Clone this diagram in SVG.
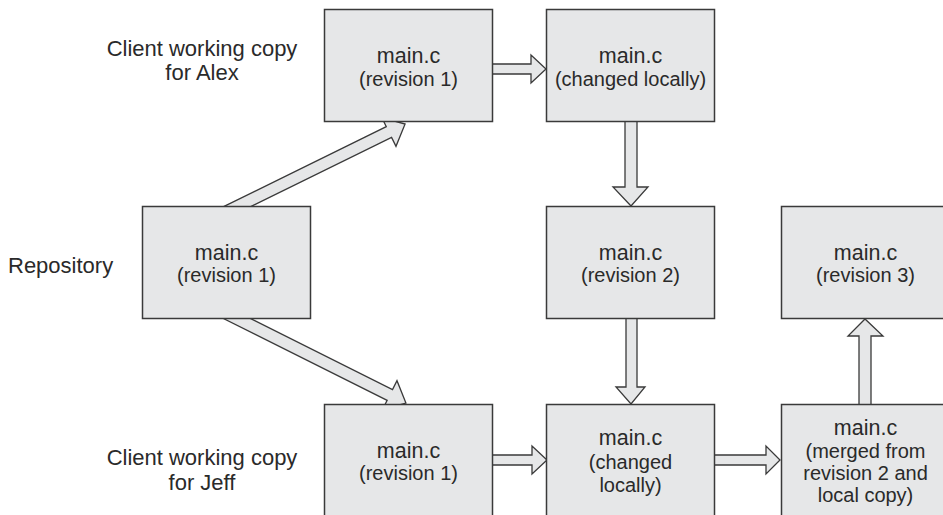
<svg xmlns="http://www.w3.org/2000/svg" width="943" height="515" viewBox="0 0 943 515">
  <style>
    .box { fill: #e6e7e8; stroke: #3a3a3a; stroke-width: 1.5; }
    .arrow { fill: #e6e7e8; stroke: #3a3a3a; stroke-width: 1.3; stroke-linejoin: miter; }
    text { font-family: "Liberation Sans", Arial, sans-serif; fill: #2a2a2a; }
    .lbl { font-size: 20px; text-anchor: middle; }
    .name { font-size: 21.5px; text-anchor: middle; }
    .side { font-size: 22px; text-anchor: middle; }
  </style>
  <rect width="943" height="515" fill="#ffffff"/>

  <!-- connectors: block arrows, drawn under the boxes so their tails tuck in -->
  <g id="connectors">
    <!-- repository to Alex -->
    <polygon class="arrow" transform="translate(220.6,214.8) rotate(-26.2)" points="0,-6 187.6,-6 187.6,-16 205.6,0 187.6,16 187.6,6 0,6"/>
    <!-- repository to Jeff -->
    <polygon class="arrow" transform="translate(218.1,309.1) rotate(26.57)" points="0,-6 192,-6 192,-16 210,0 192,16 192,6 0,6"/>
    <!-- Alex rev 1 to changed locally -->
    <polygon class="arrow" points="490,64 531,64 531,55 546,69 531,83 531,74 490,74"/>
    <!-- Alex changed locally to revision 2 -->
    <polygon class="arrow" points="625,118 637,118 637,187 648,187 631,206 613,187 625,187"/>
    <!-- revision 2 to Jeff changed locally -->
    <polygon class="arrow" points="626,315 637,315 637,387 645,387 631,404 616,387 626,387"/>
    <!-- Jeff rev 1 to changed locally -->
    <polygon class="arrow" points="490,455 532,455 532,446 547,460 532,474 532,465 490,465"/>
    <!-- Jeff changed locally to merged -->
    <polygon class="arrow" points="711,455 766,455 766,446 780,460 766,474 766,465 711,465"/>
    <!-- merged to revision 3 -->
    <polygon class="arrow" points="859,408 871,408 871,336 883,336 865,319 848,336 859,336"/>
  </g>

  <!-- row labels -->
  <g id="label-alex">
    <text class="side" x="202" y="56">Client working copy</text>
    <text class="side" x="202" y="80">for Alex</text>
  </g>
  <g id="label-repository">
    <text x="8" y="273" font-size="22">Repository</text>
  </g>
  <g id="label-jeff">
    <text class="side" x="202" y="465">Client working copy</text>
    <text class="side" x="202" y="490">for Jeff</text>
  </g>

  <!-- Alex working copy -->
  <g id="alex-rev1">
    <rect class="box" x="324.5" y="9.5" width="168" height="112"/>
    <text class="name" x="408.5" y="63">main.c</text>
    <text class="lbl" x="408.5" y="86">(revision 1)</text>
  </g>
  <g id="alex-changed">
    <rect class="box" x="546.5" y="9.5" width="168" height="112"/>
    <text class="name" x="630.5" y="63">main.c</text>
    <text class="lbl" x="630.5" y="86">(changed locally)</text>
  </g>

  <!-- Repository -->
  <g id="repo-rev1">
    <rect class="box" x="142.5" y="206.5" width="168" height="112"/>
    <text class="name" x="226.5" y="260">main.c</text>
    <text class="lbl" x="226.5" y="282">(revision 1)</text>
  </g>
  <g id="repo-rev2">
    <rect class="box" x="546.5" y="206.5" width="168" height="112"/>
    <text class="name" x="630.5" y="260">main.c</text>
    <text class="lbl" x="630.5" y="282">(revision 2)</text>
  </g>
  <g id="repo-rev3">
    <rect class="box" x="781.5" y="206.5" width="168" height="112"/>
    <text class="name" x="865.5" y="260">main.c</text>
    <text class="lbl" x="865.5" y="282">(revision 3)</text>
  </g>

  <!-- Jeff working copy -->
  <g id="jeff-rev1">
    <rect class="box" x="324.5" y="404.5" width="168" height="130"/>
    <text class="name" x="408.5" y="458">main.c</text>
    <text class="lbl" x="408.5" y="480">(revision 1)</text>
  </g>
  <g id="jeff-changed">
    <rect class="box" x="546.5" y="404.5" width="168" height="130"/>
    <text class="name" x="630.5" y="445">main.c</text>
    <text class="lbl" x="630.5" y="469">(changed</text>
    <text class="lbl" x="630.5" y="492">locally)</text>
  </g>
  <g id="jeff-merged">
    <rect class="box" x="781.5" y="404.5" width="168" height="130"/>
    <text class="name" x="865.5" y="435">main.c</text>
    <text class="lbl" x="865.5" y="458">(merged from</text>
    <text class="lbl" x="865.5" y="480">revision 2 and</text>
    <text class="lbl" x="865.5" y="502">local copy)</text>
  </g>
</svg>
